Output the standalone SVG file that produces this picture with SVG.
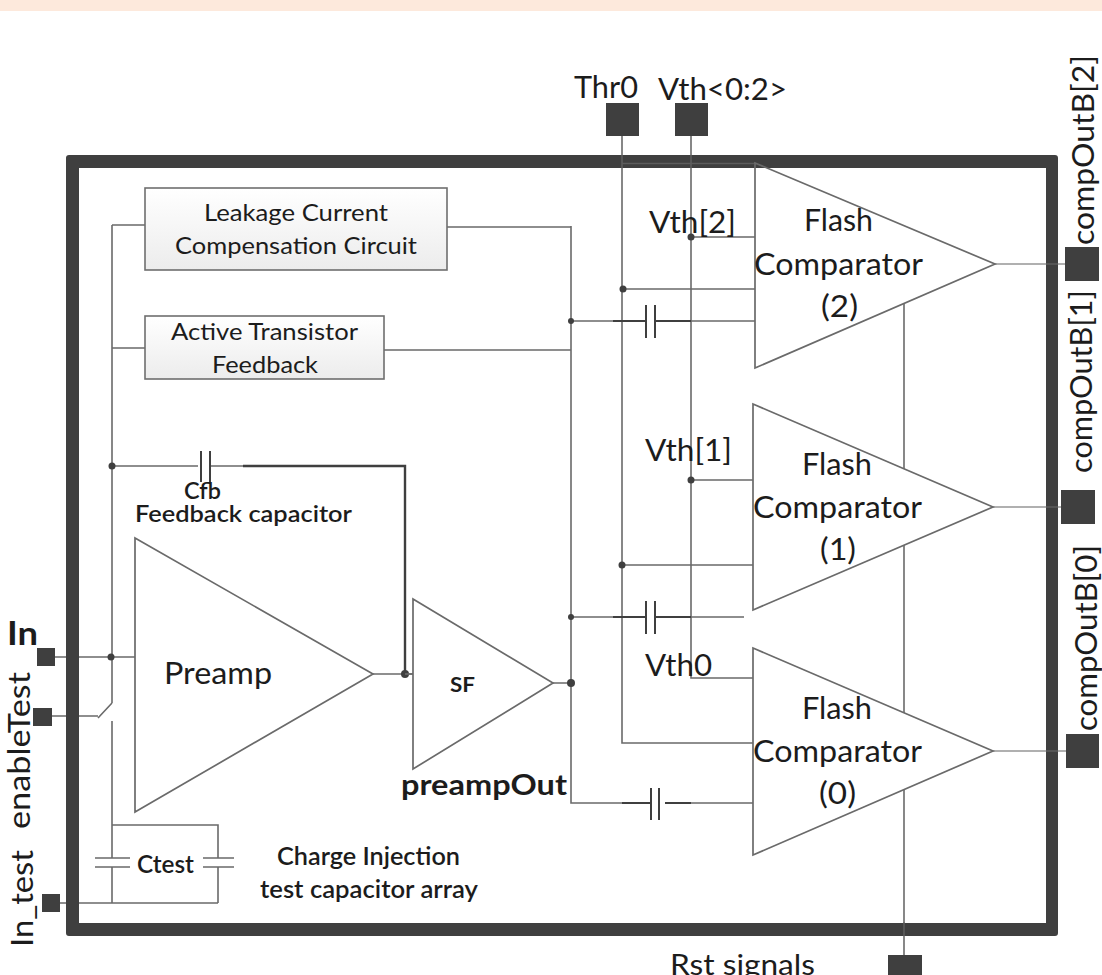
<svg xmlns="http://www.w3.org/2000/svg" width="1102" height="975" viewBox="0 0 1102 975">
<style>
text{font-family:"Lato","Open Sans","Liberation Sans",sans-serif;fill:#1c1c1c;font-size:24px}
.b{font-weight:700}
.w{fill:none;stroke:#6a6a6a;stroke-width:1.6}
.t{fill:none;stroke:#3f3f3f;stroke-width:2}
.k{fill:none;stroke:#3f3f3f;stroke-width:2.4}
.tri{fill:#fff;stroke:none}
.out{fill:none;stroke:#6a6a6a;stroke-width:1.7;stroke-linejoin:miter}
.pad{fill:#3f3f3f}
.dot{fill:#3f3f3f}
.box{fill:url(#g);stroke:#6f6f6f;stroke-width:1.6}
</style>
<defs>
<linearGradient id="g" x1="0" y1="0" x2="0" y2="1"><stop offset="0" stop-color="#fff"/><stop offset="1" stop-color="#ececec"/></linearGradient>
</defs>
<rect x="0" y="0" width="1102" height="975" fill="#fff"/>
<rect x="0" y="0" width="1102" height="11" fill="#fde9dc"/>
<g id="connectors">
<path class="w" d="M622 136V743H754M691 136V678H753M622 163.500H756"/>
<path class="w" d="M904 300V955"/>
<path class="w" d="M691 237H755M622 289H757M691 321H755M691 480H753M622 565H755M691 617H744M691 803H753"/>
<path class="t" d="M613 321H646M655 321H691M613 617H646M655 617H691M622 803H650M665 803H691"/>
<path class="t" d="M646 305V338M655 305V338M646 601V634M655 601V634M651 788V820M659 788V820"/>
<path class="w" d="M571 226V803H622M447 227H571M384 350H571M571 321H613M571 617H613M553 683H571"/>
<path class="w" d="M112 225V703M112 225H145M112 348H145M55 657H135M112 466H198M210 466H243"/>
<path class="t" d="M201 451V482M210 451V482"/>
<path class="k" d="M243 466H405V674"/>
<path class="w" d="M373 674H413"/>
<path class="w" d="M52 716H98M112 703L98 718M112 721V858M112 867V903M112 825H218V858M218 867V903M60 903H218"/>
<path class="w" d="M95 858H130M95 867H130M203 858H234M203 867H234"/>
</g>
<g id="comparator2"><polygon class="tri" points="755,163 995,264 755,368"/></g>
<g id="comparator1"><polygon class="tri" points="753,404 993,507 753,610"/></g>
<g id="comparator0"><polygon class="tri" points="753,648 993,751 753,855"/></g>
<g id="frame"><path fill="#3f3f3f" fill-rule="evenodd" d="M69 155H1055Q1058 155 1058 158V933Q1058 936 1055 936H69Q66 936 66 933V158Q66 155 69 155ZM79 168V923H1046V168Z"/></g>
<g id="frame-crossings"><path class="w" stroke-opacity=".7" d="M622 155V168M691 155V168M622 163.500H756M904 922V936M995 264H1065M993 507H1061M993 751H1066"/></g>
<g id="comparator2-outline">
<polygon class="out" points="755,163 995,264 755,368"/>
<text x="804" y="231" textLength="69" lengthAdjust="spacingAndGlyphs" style="font-size:30px">Flash</text>
<text x="754" y="275" textLength="169" lengthAdjust="spacingAndGlyphs" style="font-size:30px">Comparator</text>
<text x="821" y="317" textLength="37" lengthAdjust="spacingAndGlyphs" style="font-size:30px">(2)</text>
</g>
<g id="comparator1-outline">
<polygon class="out" points="753,404 993,507 753,610"/>
<text x="802" y="475" textLength="70" lengthAdjust="spacingAndGlyphs" style="font-size:30px">Flash</text>
<text x="753" y="518" textLength="169" lengthAdjust="spacingAndGlyphs" style="font-size:30px">Comparator</text>
<text x="820" y="560" textLength="36" lengthAdjust="spacingAndGlyphs" style="font-size:30px">(1)</text>
</g>
<g id="comparator0-outline">
<polygon class="out" points="753,648 993,751 753,855"/>
<text x="802" y="719" textLength="70" lengthAdjust="spacingAndGlyphs" style="font-size:30px">Flash</text>
<text x="753" y="762" textLength="169" lengthAdjust="spacingAndGlyphs" style="font-size:30px">Comparator</text>
<text x="819" y="804" textLength="37" lengthAdjust="spacingAndGlyphs" style="font-size:30px">(0)</text>
</g>
<g id="junctions">
<circle class="dot" cx="691" cy="237" r="3.500"/><circle class="dot" cx="623" cy="289" r="3.500"/><circle class="dot" cx="571" cy="321" r="3"/>
<circle class="dot" cx="691" cy="480" r="3.500"/><circle class="dot" cx="622" cy="565" r="3.500"/><circle class="dot" cx="571" cy="617" r="3"/>
<circle class="dot" cx="112" cy="466" r="3.500"/><circle class="dot" cx="111" cy="657" r="3.500"/>
</g>
<g id="leakage"><rect class="box" x="145" y="188" width="302" height="82"/>
<text x="204" y="221" textLength="184" lengthAdjust="spacingAndGlyphs">Leakage Current</text>
<text x="175" y="254" textLength="242" lengthAdjust="spacingAndGlyphs">Compensation Circuit</text></g>
<g id="active"><rect class="box" x="145" y="316" width="239" height="63"/>
<text x="171" y="340" textLength="187" lengthAdjust="spacingAndGlyphs">Active Transistor</text>
<text x="212" y="373" textLength="106" lengthAdjust="spacingAndGlyphs">Feedback</text></g>
<g id="preamp"><polygon class="out" style="fill:#fff" points="135,538 373,674 135,812"/>
<text x="164" y="684" textLength="108" lengthAdjust="spacingAndGlyphs" style="font-size:30px">Preamp</text></g>
<g id="sf"><polygon class="out" style="fill:#fff" points="413,599 553,683 413,769"/>
<text class="b" x="450" y="692" textLength="25" lengthAdjust="spacingAndGlyphs" style="font-size:20px">SF</text></g>
<circle class="dot" cx="405" cy="674" r="4"/><circle class="dot" cx="571" cy="683" r="4"/>
<path class="w" d="M405 674H413"/>
<g id="labels">
<text x="184" y="499" textLength="37" lengthAdjust="spacingAndGlyphs" style="font-size:22px;font-weight:600">Cfb</text>
<text x="135" y="522" textLength="217" lengthAdjust="spacingAndGlyphs" style="font-size:23px;font-weight:600">Feedback capacitor</text>
<text class="b" x="401" y="795" textLength="166" lengthAdjust="spacingAndGlyphs" style="font-size:29px">preampOut</text>
<text x="137" y="873" textLength="57" lengthAdjust="spacingAndGlyphs" style="font-weight:600">Ctest</text>
<text x="277" y="865" textLength="183" lengthAdjust="spacingAndGlyphs" style="font-weight:600">Charge Injection</text>
<text x="260" y="898" textLength="218" lengthAdjust="spacingAndGlyphs" style="font-weight:600">test capacitor array</text>
<text x="649" y="233" textLength="87" lengthAdjust="spacingAndGlyphs" style="font-size:30px">Vth[2]</text>
<text x="645" y="461" textLength="87" lengthAdjust="spacingAndGlyphs" style="font-size:30px">Vth[1]</text>
<text x="645" y="676" textLength="67" lengthAdjust="spacingAndGlyphs" style="font-size:30px">Vth0</text>
<text x="670" y="975" textLength="145" lengthAdjust="spacingAndGlyphs" style="font-size:28px">Rst signals</text>
</g>
<g id="pin-thr0"><rect class="pad" x="606" y="103" width="33" height="33"/><text x="574" y="98" textLength="64" lengthAdjust="spacingAndGlyphs" style="font-size:30px">Thr0</text></g>
<g id="pin-vth"><rect class="pad" x="675" y="103" width="33" height="33"/><text x="658" y="100" textLength="129" lengthAdjust="spacingAndGlyphs" style="font-size:30px">Vth&lt;0:2&gt;</text></g>
<g id="pin-out2"><rect class="pad" x="1065" y="247" width="34" height="34"/><text transform="translate(1094 245) rotate(-90)" textLength="190" lengthAdjust="spacingAndGlyphs" style="font-size:31px">compOutB[2]</text></g>
<g id="pin-out1"><rect class="pad" x="1061" y="490" width="34" height="34"/><text transform="translate(1092 473) rotate(-90)" textLength="183" lengthAdjust="spacingAndGlyphs" style="font-size:30px">compOutB[1]</text></g>
<g id="pin-out0"><rect class="pad" x="1066" y="734" width="33" height="34"/><text transform="translate(1097 731) rotate(-90)" textLength="186" lengthAdjust="spacingAndGlyphs" style="font-size:30px">compOutB[0]</text></g>
<g id="pin-rst"><rect class="pad" x="888" y="955" width="34" height="20"/></g>
<g id="pin-in"><rect class="pad" x="37" y="648" width="18" height="18"/><text class="b" x="7" y="645" textLength="31" lengthAdjust="spacingAndGlyphs" style="font-size:33px">In</text></g>
<g id="pin-enable"><rect class="pad" x="33" y="708" width="19" height="18"/><text transform="translate(30 829) rotate(-90)" textLength="157" lengthAdjust="spacingAndGlyphs" style="font-size:30px">enableTest</text></g>
<g id="pin-intest"><rect class="pad" x="42" y="894" width="18" height="18"/><text transform="translate(33 947) rotate(-90)" textLength="97" lengthAdjust="spacingAndGlyphs" style="font-size:30px">In_test</text></g>
</svg>
